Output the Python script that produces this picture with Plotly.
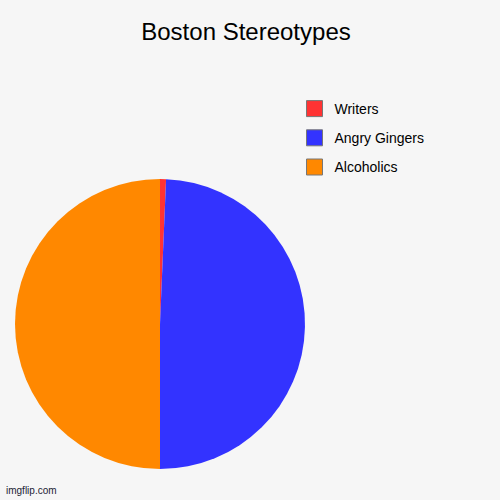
import plotly.graph_objects as go

categories = ["Writers", "Angry Gingers", "Alcoholics"]
values = [1, 74, 75]
colors = ["#ff3333", "#3333ff", "#ff8800"]

fig = go.Figure()
fig.add_trace(go.Pie(
    labels=categories, values=values, sort=False, direction="clockwise",
    rotation=0, textinfo="none", showlegend=False,
    marker=dict(colors=colors, line=dict(width=0)),
    domain=dict(x=[0.03, 0.61], y=[0.062, 0.642]),
))
for i, (c, col) in enumerate(zip(categories, colors)):
    fig.add_trace(go.Scatter(
        x=[None], y=[None], mode="markers", name=c, legendgroup=c,
        marker=dict(symbol="square", size=16, color=col,
                    line=dict(color="#777777", width=1)),
    ))

fig.update_layout(
    width=500, height=500,
    margin=dict(l=0, r=0, t=0, b=0),
    paper_bgcolor="#f6f6f6", plot_bgcolor="#f6f6f6",
    xaxis=dict(visible=False), yaxis=dict(visible=False),
    title=dict(text="Boston Stereotypes", x=0.492, xanchor="center",
               y=1 - 32 / 500, yanchor="middle", yref="container",
               font=dict(family="Liberation Sans, Arial", size=24, color="#000")),
    legend=dict(x=0.589, xanchor="left", y=1 - 93 / 500, yanchor="top",
                font=dict(family="Liberation Sans, Arial", size=14, color="#000"),
                tracegroupgap=8, bgcolor="rgba(0,0,0,0)", itemsizing="trace"),
    annotations=[dict(text="imgflip.com", x=0.008, y=0.004, xref="paper", yref="paper",
                      xanchor="left", yanchor="bottom", showarrow=False,
                      font=dict(family="Liberation Sans, Arial", size=10, color="#223"))],
)
fig.write_html("out.html", config={"displayModeBar": False},
               post_script="document.body.style.margin='0';document.body.style.padding='0';document.body.style.background='#f6f6f6';")
